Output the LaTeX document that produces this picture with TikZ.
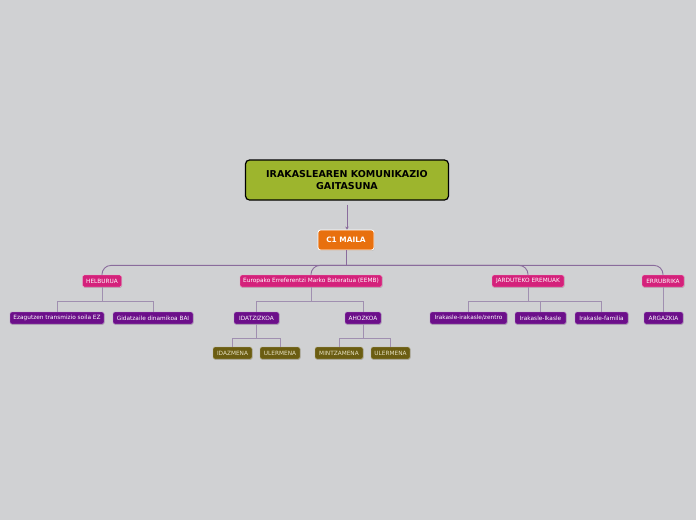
\documentclass[tikz,border=0pt]{standalone}
\usepackage{fontspec}
\setmainfont{DejaVu Sans}
\usetikzlibrary{shadows,arrows.meta,positioning}
\definecolor{bg}{HTML}{D0D1D3}
\definecolor{rootc}{HTML}{9DB52D}
\definecolor{orangec}{HTML}{E8700E}
\definecolor{magc}{HTML}{D4217B}
\definecolor{purc}{HTML}{6C0F8A}
\definecolor{olc}{HTML}{6B5D12}
\definecolor{olt}{HTML}{E8E2C4}
\definecolor{linec}{HTML}{8A6C9C}
\definecolor{linel}{HTML}{A08FB0}
\tikzset{
  box/.style={rectangle, rounded corners=1.5pt, inner sep=0pt, minimum height=12pt,
    font=\fontsize{5.8}{7}\selectfont, text=white,
    drop shadow={opacity=0.35, shadow xshift=0.6pt, shadow yshift=-0.8pt}},
  rootbox/.style={rectangle, rounded corners=4pt, fill=rootc, draw=black, line width=1.2pt,
    minimum width=203pt, minimum height=40pt, align=center, inner sep=0pt,
    font=\fontsize{9.5}{11.5}\selectfont\bfseries},
  mainbox/.style={rectangle, rounded corners=2.5pt, fill=orangec, draw=white, line width=0.8pt,
    minimum width=56pt, minimum height=20pt, inner sep=0pt, text=white,
    font=\fontsize{7.4}{9}\selectfont\bfseries,
    drop shadow={opacity=0.35, shadow xshift=0.6pt, shadow yshift=-0.8pt}},
  magbox/.style={box, fill=magc, draw=magc!40!white, line width=0.4pt},
  purbox/.style={box, fill=purc, draw=purc!50!white, line width=0.4pt},
  olbox/.style={box, fill=olc, draw=olc!50!white, line width=0.4pt, text=olt},
  conn/.style={draw=linec, line width=0.9pt},
  connl/.style={draw=linel, line width=0.7pt},
}
\begin{document}
\begin{tikzpicture}[x=1pt, y=-1pt]
\path[use as bounding box, fill=bg] (0,0) rectangle (696,520);
% root and main
\node[rootbox] (root) at (347,180) {IRAKASLEAREN KOMUNIKAZIO\\GAITASUNA};
\node[mainbox] (c1) at (346,240) {C1 MAILA};
% level 2
\node[magbox, minimum width=39pt] (helb) at (102,281) {HELBURUA};
\node[magbox, minimum width=142pt] (eemb) at (311,281) {Europako Erreferentzi Marko Bateratua (EEMB)};
\node[magbox, minimum width=72pt] (jard) at (528,281) {JARDUTEKO EREMUAK};
\node[magbox, minimum width=42pt] (erru) at (663,281) {ERRUBRIKA};
% level 3
\node[purbox, minimum width=94pt] (ezag) at (57,318) {Ezagutzen transmizio soila EZ};
\node[purbox, minimum width=80pt] (gida) at (153,318) {Gidatzaile dinamikoa BAI};
\node[purbox, minimum width=45pt] (idat) at (256.5,318) {IDATZIZKOA};
\node[purbox, minimum width=36pt] (ahoz) at (363,318) {AHOZKOA};
\node[purbox, minimum width=77pt] (ira1) at (468.5,318) {Irakasle-irakasle/zentro};
\node[purbox, minimum width=51pt] (ira2) at (540.5,318) {Irakasle-Ikasle};
\node[purbox, minimum width=53pt] (ira3) at (601.5,318) {Irakasle-familia};
\node[purbox, minimum width=39pt] (arga) at (663.5,318) {ARGAZKIA};
% level 4
\node[olbox, minimum width=39pt] (idaz) at (232.5,353) {IDAZMENA};
\node[olbox, minimum width=40pt] (ule1) at (280,353) {ULERMENA};
\node[olbox, minimum width=48pt] (mint) at (339,353) {MINTZAMENA};
\node[olbox, minimum width=39pt] (ule2) at (390.5,353) {ULERMENA};
% connectors
\draw[conn, -{Stealth[length=3pt,width=3.5pt]}] (root.south) ++(0,4) coordinate (rs) -- (rs |- c1.north);
\draw[conn] (c1.south) -- ++(0,15) coordinate (j1);
\foreach \c in {helb,eemb,jard,erru}
  \draw[conn, rounded corners=9pt] (j1) -| (\c.north);
\foreach \p/\cs in {helb/{ezag,gida}, eemb/{idat,ahoz}, jard/{ira1,ira2,ira3}, erru/{arga}, idat/{idaz,ule1}, ahoz/{mint,ule2}}{
  \draw[connl] (\p.south) -- ++(0,14) coordinate (jj);
  \foreach \c in \cs
    \draw[connl] (jj) -| (\c.north);
}
\end{tikzpicture}
\end{document}
